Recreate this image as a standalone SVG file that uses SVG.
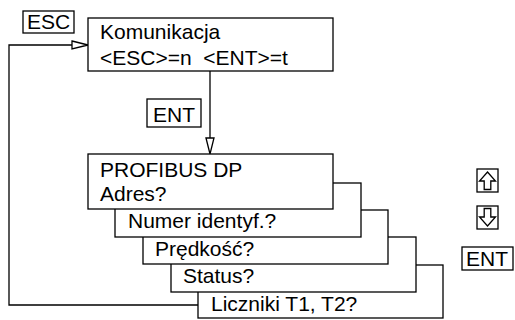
<svg xmlns="http://www.w3.org/2000/svg" width="515" height="320" viewBox="0 0 515 320">
  <style>
    .box { fill: #ffffff; stroke: #000000; stroke-width: 1.3; }
    .line { fill: none; stroke: #000000; stroke-width: 1.3; }
    .txt { font-family: "Liberation Sans", Arial, sans-serif; font-size: 21px; fill: #000000; white-space: pre; }
    .head { fill: #ffffff; stroke: #000000; stroke-width: 1.3; }
  </style>
  <rect width="515" height="320" fill="#ffffff"/>

  <!-- connectors -->
  <g id="connectors">
    <!-- loop back from the counters screen to the top menu -->
    <polyline class="line" points="198,305 9,305 9,45 74,45"/>
    <polygon class="head" points="72,41 88,45 72,49"/>
    <!-- ENT path down to the PROFIBUS screen -->
    <line class="line" x1="210" y1="71" x2="210" y2="139"/>
    <polygon class="head" points="206,138 210,154 214,138"/>
  </g>

  <!-- key labels -->
  <g id="key-esc">
    <rect class="box" x="23" y="11" width="51" height="22"/>
    <text class="txt" x="27" y="29">ESC</text>
  </g>
  <g id="key-ent">
    <rect class="box" x="147" y="99" width="54" height="28"/>
    <text class="txt" x="153" y="122">ENT</text>
  </g>

  <!-- menu entry -->
  <g id="komunikacja">
    <rect class="box" x="88" y="18" width="245" height="53"/>
    <text class="txt" x="100" y="39">Komunikacja</text>
    <text class="txt" x="100" y="65">&lt;ESC&gt;=n  &lt;ENT&gt;=t</text>
  </g>

  <!-- stacked parameter screens, back to front -->
  <g id="liczniki">
    <rect class="box" x="198" y="265" width="245" height="53"/>
    <text class="txt" x="211" y="311">Liczniki T1, T2?</text>
  </g>
  <g id="status">
    <rect class="box" x="171" y="237" width="245" height="55"/>
    <text class="txt" x="183" y="283">Status?</text>
  </g>
  <g id="predkosc">
    <rect class="box" x="143" y="210" width="245" height="54"/>
    <text class="txt" x="155" y="256">Prędkość?</text>
  </g>
  <g id="numer">
    <rect class="box" x="115" y="183" width="246" height="54"/>
    <text class="txt" x="128" y="228">Numer identyf.?</text>
  </g>
  <g id="profibus">
    <rect class="box" x="88" y="154" width="245" height="55"/>
    <text class="txt" x="100" y="177">PROFIBUS DP</text>
    <text class="txt" x="100" y="201">Adres?</text>
  </g>

  <!-- navigation keys legend -->
  <g id="key-up">
    <rect class="box" x="477" y="169" width="21" height="23"/>
    <polygon class="head" points="487.5,172 495.5,181 490.8,181 490.8,189.5 484.2,189.5 484.2,181 479.5,181"/>
  </g>
  <g id="key-down">
    <rect class="box" x="477" y="206" width="21" height="23"/>
    <polygon class="head" points="487.5,226 495.5,217 490.8,217 490.8,208.5 484.2,208.5 484.2,217 479.5,217"/>
  </g>
  <g id="key-ent-legend">
    <rect class="box" x="462" y="247" width="51" height="23"/>
    <text class="txt" x="466" y="266">ENT</text>
  </g>
</svg>
